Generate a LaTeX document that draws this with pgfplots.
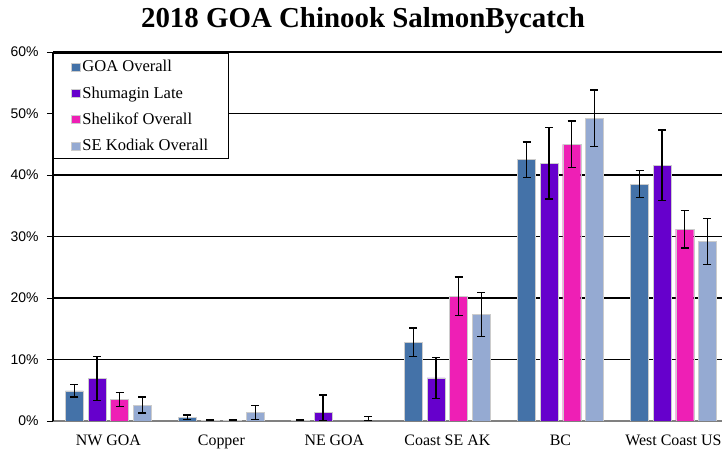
\documentclass[border=0pt]{standalone}
\usepackage{fontspec}
\setmainfont{Liberation Serif}
\newfontfamily\arial{Liberation Sans}
\usepackage{pgfplots}
\pgfplotsset{compat=1.18}
\definecolor{cGOA}{HTML}{4472A8}
\definecolor{cShu}{HTML}{6600CC}
\definecolor{cShe}{HTML}{EE1FB5}
\definecolor{cSEK}{HTML}{95AAD2}
\begin{document}
\begin{tikzpicture}
\useasboundingbox (0,0) rectangle (722bp,452bp);
\node[font=\bfseries\fontsize{29}{32}\selectfont] at (363bp,431bp) {2018 GOA Chinook SalmonBycatch};
\begin{axis}[
  at={(53bp,31bp)}, anchor=south west,
  scale only axis, width=669bp, height=369bp,
  ybar=4.6bp, bar width=18bp,
  xmin=-0.49, xmax=5.43, ymin=0, ymax=60,
  xtick={0,1,2,3,4,5},
  xticklabels={NW GOA,Copper,NE GOA,Coast SE AK,BC,West Coast US},
  x tick label style={font=\fontsize{16}{18}\selectfont, yshift=-4bp},
  ytick={0,10,20,30,40,50,60},
  /pgf/number format/assume math mode=true,
  yticklabel={\arial\pgfmathprintnumber{\tick}\%},
  y tick label style={font=\fontsize{14}{16}\selectfont, xshift=-5bp},
  major x tick style={draw=none},
  ytick style={black, line width=1bp},
  tick align=outside, major tick length=6bp,
  axis x line*=bottom, axis y line*=left,
  x axis line style={draw=gray, line width=1.2bp, -},
  y axis line style={draw=black, line width=1.2bp, -},
  ymajorgrids, grid style={black, line width=1.1bp},
  clip=true,
  every axis plot/.append style={draw=white!80!black, line width=0.4bp,
    error bars/y dir=both, error bars/y explicit,
    error bars/error bar style={black, line width=1.3bp},
    error bars/error mark options={rotate=90, mark size=4bp, black, line width=1.3bp}},
  legend image code/.code={\fill[#1] (0bp,-4bp) rectangle (8bp,4bp);},
  legend style={at={(0,1)}, anchor=north west, yshift=-1bp, draw=black, line width=1bp,
    fill=white, font=\fontsize{16.6}{19}\selectfont, row sep=9.3bp,
    inner xsep=18bp, inner ysep=4.8bp, cells={anchor=west},
    nodes={inner xsep=2.5bp}},
]
\addplot[fill=cGOA] coordinates {
 (0,4.9) +- (0,1.0)
 (1,0.6) +- (0,0.4)
 (2,0.1) +- (0,0.05)
 (3,12.8) +- (0,2.3)
 (4,42.5) +- (0,2.85)
 (5,38.5) +- (0,2.2)};
\addplot[fill=cShu] coordinates {
 (0,6.9) +- (0,3.6)
 (1,0.1) +- (0,0.05)
 (2,1.35) += (0,2.9) -= (0,1.35)
 (3,7.0) +- (0,3.3)
 (4,41.9) +- (0,5.8)
 (5,41.6) +- (0,5.7)};
\addplot[fill=cShe] coordinates {
 (0,3.5) +- (0,1.15)
 (1,0.1) +- (0,0.05)
 (3,20.3) +- (0,3.1)
 (4,45.0) +- (0,3.8)
 (5,31.2) +- (0,3.05)};
\addplot[fill=cSEK] coordinates {
 (0,2.6) +- (0,1.3)
 (1,1.4) +- (0,1.1)
 (2,0) += (0,0.7) -= (0,0)
 (3,17.3) +- (0,3.6)
 (4,49.2) +- (0,4.6)
 (5,29.2) +- (0,3.7)};
\legend{GOA Overall,Shumagin Late,Shelikof Overall,SE Kodiak Overall}
\end{axis}
\end{tikzpicture}
\end{document}
